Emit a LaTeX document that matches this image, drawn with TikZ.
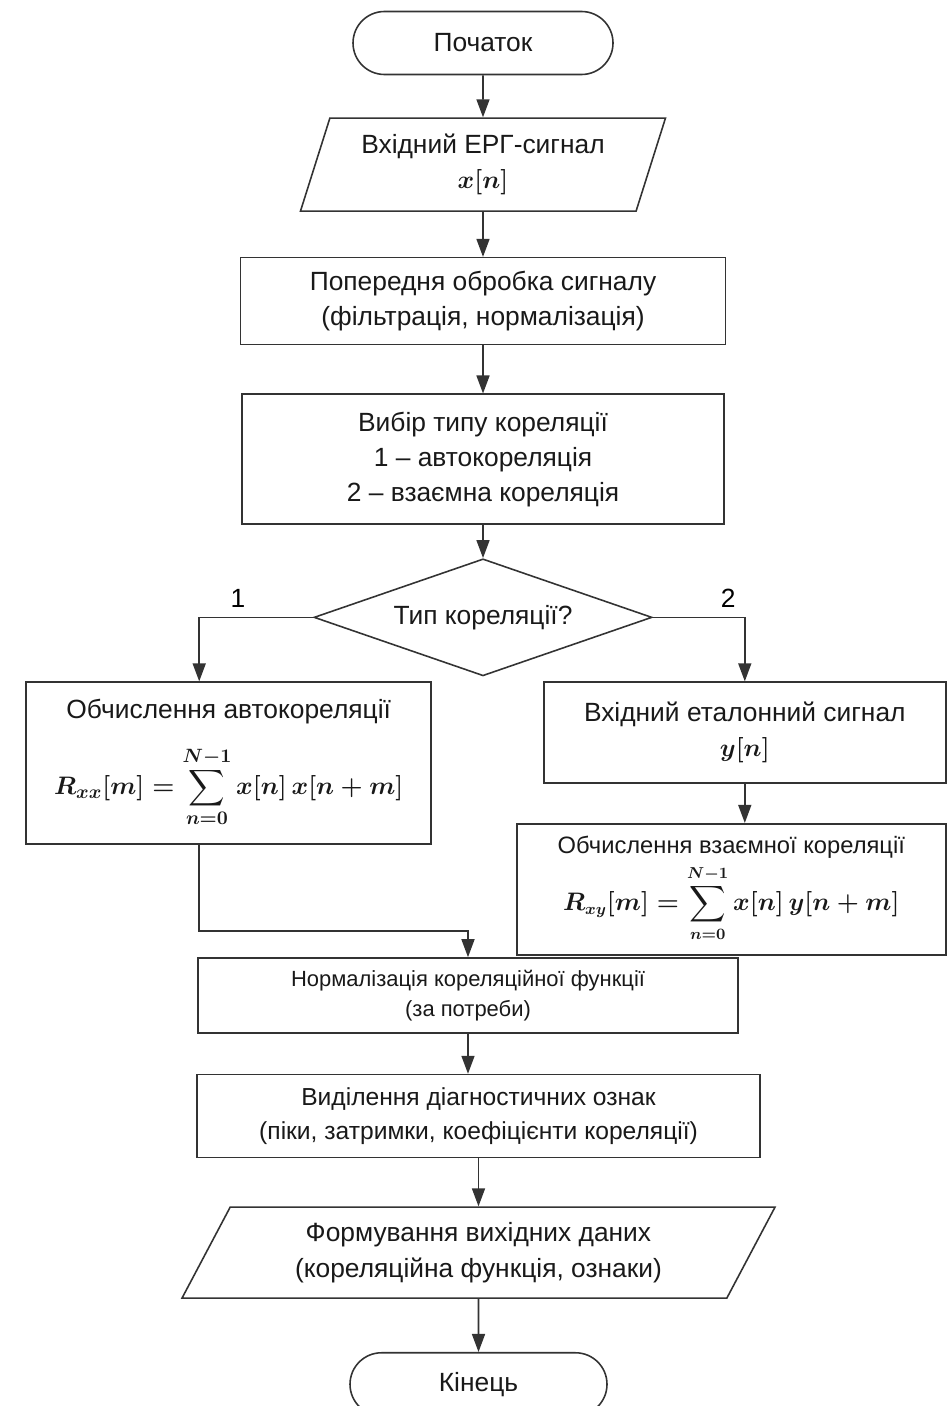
\documentclass[tikz,border=0pt]{standalone}
\usepackage{amsmath}
\usepackage{fontspec}
\setmainfont{Liberation Sans}
\usetikzlibrary{positioning,shapes.geometric,arrows.meta}

\begin{document}
\begin{tikzpicture}[
    font=\fontsize{15}{20}\selectfont,
    line/.style={draw=black!80, line width=0.9pt},
    arr/.style={line, -{Triangle[length=0.36cm,width=0.26cm]}},
    box/.style={line, rectangle, align=center, text=black!90},
    term/.style={box, rounded corners=0.63cm, minimum width=5.2cm, minimum height=1.26cm},
    io/.style={box, trapezium, trapezium stretches body},
    decide/.style={box, diamond, aspect=2.9, inner sep=0pt}
]
    \useasboundingbox (0,0) rectangle (19,-28.12);

    \node[term] (start) at (9.66,-0.86) {Початок};
    \node[io, trapezium left angle=68, trapezium right angle=112,
          minimum width=7.3cm, minimum height=1.86cm, below=0.84cm of start] (inp)
          {Вхідний ЕРГ-сигнал\\ {\boldmath$x[n]$}};
    \node[box, minimum width=9.7cm, minimum height=1.74cm, below=0.9cm of inp] (prep)
          {Попередня обробка сигналу\\(фільтрація, нормалізація)};
    \node[box, minimum width=9.64cm, minimum height=2.6cm, below=0.96cm of prep] (choose)
          {Вибір типу кореляції\\1 -- автокореляція\\2 -- взаємна кореляція};
    \node[decide, minimum width=6.76cm, minimum height=2.34cm, below=0.66cm of choose] (dec)
          {Тип кореляції?};

    % branch 1
    \node[box, minimum width=8.1cm, minimum height=3.24cm, below=1.28cm of dec.west, xshift=-1.69cm] (autoc)
          {Обчислення автокореляції\\[12pt]{\boldmath$\displaystyle R_{xx}[m] = \sum_{n=0}^{N-1} x[n]\,x[n+m]$}};
    % branch 2
    \node[box, minimum width=8.04cm, minimum height=2.02cm, below=1.28cm of dec.east, xshift=1.84cm] (ref)
          {Вхідний еталонний сигнал\\ {\boldmath$y[n]$}};
    \node[box, font=\fontsize{13.5}{18}\selectfont, minimum width=8.58cm, minimum height=2.62cm,
          below=0.78cm of ref, xshift=-0.27cm] (cross)
          {Обчислення взаємної кореляції\\[3pt]{\boldmath$\displaystyle R_{xy}[m] = \sum_{n=0}^{N-1} x[n]\,y[n+m]$}};

    \node[box, font=\fontsize{12.5}{17}\selectfont, minimum width=10.8cm, minimum height=1.5cm] (norm)
          at (9.36,-19.91) {Нормалізація кореляційної функції\\(за потреби)};
    \node[box, font=\fontsize{14}{19}\selectfont, minimum width=11.26cm, minimum height=1.66cm,
          below=0.8cm of norm, xshift=0.21cm] (feat)
          {Виділення діагностичних ознак\\(піки, затримки, коефіцієнти кореляції)};
    \node[io, trapezium left angle=56, trapezium right angle=124,
          minimum width=11.86cm, minimum height=1.82cm, below=0.96cm of feat] (out)
          {Формування вихідних даних\\(кореляційна функція, ознаки)};
    \node[term, minimum width=5.14cm, below=1.06cm of out] (end) {Кінець};

    \draw[arr] (start) -- (inp);
    \draw[arr] (inp) -- (prep);
    \draw[arr] (prep) -- (choose);
    \draw[arr] (choose) -- (dec);
    \draw[arr] (dec.west) -| node[pos=0.33, above, yshift=2pt] {1} ([xshift=-0.59cm]autoc.north);
    \draw[arr] (dec.east) -| node[pos=0.41, above, yshift=2pt] {2} (ref.north);
    \draw[arr] (ref) -- (ref.south |- cross.north);
    \draw[arr] ([xshift=-0.59cm]autoc.south) |- ([yshift=0.52cm]norm.north) -- (norm.north);
    \draw[arr] (norm) -- (norm.south |- feat.north);
    \draw[arr] (feat) -- (feat.south |- out.north);
    \draw[arr] (out) -- (end);
\end{tikzpicture}
\end{document}
